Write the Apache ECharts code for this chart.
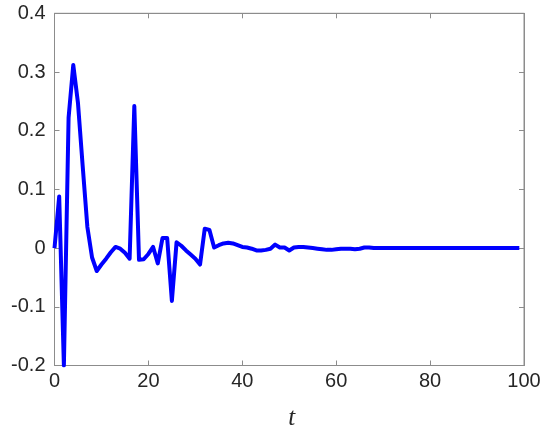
<!DOCTYPE html>
<html>
<head>
<meta charset="utf-8">
<script src="https://cdn.jsdelivr.net/npm/echarts@6/dist/echarts.min.js"></script>
<style>html,body{margin:0;padding:0;background:#fff}#c{width:550px;height:433px}</style>
</head>
<body>
<div id="c"></div>
<script>
var tValues = [0,1,2,3,4,5,6,7,8,9,10,11,12,13,14,15,16,17,18,19,20,21,22,23,24,25,26,27,28,29,30,31,32,33,34,35,36,37,38,39,40,41,42,43,44,45,46,47,48,49,50,51,52,53,54,55,56,57,58,59,60,61,62,63,64,65,66,67,68,69,70,71,72,73,74,75,76,77,78,79,80,81,82,83,84,85,86,87,88,89,90,91,92,93,94,95,96,97,98,99];
var yValues = [0.0,0.088,-0.2,0.222,0.312,0.247,0.14,0.036,-0.016,-0.039,-0.028,-0.018,-0.007,0.002,-0.001,-0.008,-0.018,0.242,-0.02,-0.019,-0.01,0.002,-0.026,0.017,0.017,-0.09,0.01,0.004,-0.004,-0.011,-0.018,-0.028,0.033,0.031,0.001,0.005,0.008,0.009,0.008,0.005,0.002,0.001,-0.001,-0.004,-0.004,-0.003,-0.001,0.006,0.001,0.001,-0.004,0.001,0.002,0.002,0.001,0.0,-0.001,-0.002,-0.003,-0.003,-0.002,-0.001,-0.001,-0.001,-0.002,-0.001,0.001,0.001,0.0,0.0,0.0,0.0,0.0,0.0,0.0,0.0,0.0,0.0,0.0,0.0,0.0,0.0,0.0,0.0,0.0,0.0,0.0,0.0,0.0,0.0,0.0,0.0,0.0,0.0,0.0,0.0,0.0,0.0,0.0,0.0];
var xTickLabels = ['0','20','40','60','80','100'];
var yTickLabels = ['-0.2','-0.1','0','0.1','0.2','0.3','0.4'];

var pts = tValues.map(function(t,i){return [t, yValues[i]];});
var axisCol = '#8c8c8c';
var labCol = '#262626';
var font = 'Liberation Sans, Arial, Helvetica, sans-serif';

var chart = echarts.init(document.getElementById('c'), null, {renderer:'canvas'});
chart.setOption({
  animation:false,
  grid:{left:54.5, right:26, top:13.3, bottom:67.5, containLabel:false, outerBoundsMode:'none',
    show:true, borderColor:axisCol, borderWidth:1, backgroundColor:'#fff'},
  xAxis:[{
    type:'value', min:0, max:100, interval:20, position:'bottom',
    axisLine:{show:true, onZero:false, lineStyle:{color:axisCol}},
    axisTick:{show:true, inside:true, length:5, lineStyle:{color:axisCol}},
    splitLine:{show:false},
    axisLabel:{color:labCol, fontSize:20, fontFamily:font, margin:6,
      formatter:function(v){return xTickLabels[Math.round(v/20)];}},
    name:'t', nameLocation:'middle', nameGap:40,
    nameTextStyle:{fontFamily:'Liberation Serif, DejaVu Serif, serif', fontStyle:'italic', fontSize:25, color:labCol, padding:[0,0,0,5]}
  },{
    type:'value', min:0, max:100, interval:20, position:'top',
    axisLine:{show:true, onZero:false, lineStyle:{color:axisCol}},
    axisTick:{show:true, inside:true, length:5, lineStyle:{color:axisCol}},
    axisLabel:{show:false}, splitLine:{show:false}
  }],
  yAxis:[{
    type:'value', min:-0.2, max:0.4, interval:0.1, position:'left',
    axisLine:{show:true, onZero:false, lineStyle:{color:axisCol}},
    axisTick:{show:true, inside:true, length:5, lineStyle:{color:axisCol}},
    splitLine:{show:false},
    axisLabel:{color:labCol, fontSize:20, fontFamily:font, margin:9,
      formatter:function(v){return yTickLabels[Math.round((v+0.2)/0.1)];}}
  },{
    type:'value', min:-0.2, max:0.4, interval:0.1, position:'right',
    axisLine:{show:true, onZero:false, lineStyle:{color:axisCol}},
    axisTick:{show:true, inside:true, length:5, lineStyle:{color:axisCol}},
    axisLabel:{show:false}, splitLine:{show:false}
  }],
  series:[{
    type:'line', data:pts, xAxisIndex:0, yAxisIndex:0,
    showSymbol:false, symbol:'none', clip:true,
    lineStyle:{color:'#0000ff', width:4, join:'round'}
  }]
});
</script>
</body>
</html>
